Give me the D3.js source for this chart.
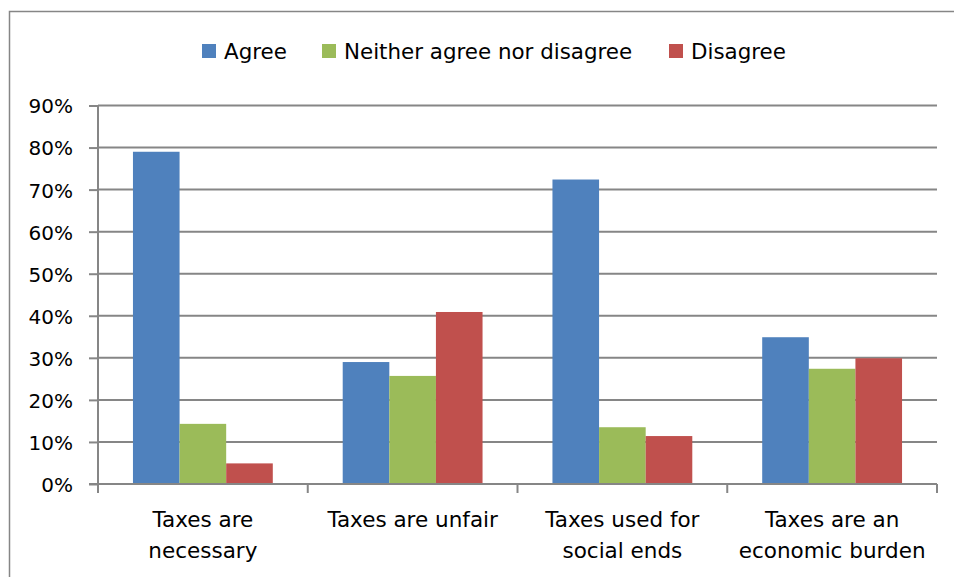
<!DOCTYPE html>
<html><head><meta charset="utf-8">
<script src="https://cdn.jsdelivr.net/npm/d3@7"></script>
<style>
html,body{margin:0;padding:0;background:#fff;}
svg{display:block;font-family:"DejaVu Sans",sans-serif;}
</style></head>
<body><svg id="c" width="954" height="577"></svg>
<script>
const categories = [["Taxes are","necessary"],["Taxes are unfair"],["Taxes used for","social ends"],["Taxes are an","economic burden"]];
const seriesNames = ["Agree","Neither agree nor disagree","Disagree"];
const agree = [79, 29, 72.4, 34.9];
const neither = [14.3, 25.7, 13.5, 27.4];
const disagree = [4.9, 40.9, 11.4, 29.9];
const yTicks = [0,10,20,30,40,50,60,70,80,90];
const colors = ["#4F81BD","#9BBB59","#C0504D"];

const svg = d3.select("#c");
const m = {left:98, right:937, top:105.5, bottom:484};
const gridColor = "#868686";

// outer frame
svg.append("rect").attr("x",9.5).attr("y",11.5).attr("width",960).attr("height",600)
  .attr("fill","none").attr("stroke",gridColor).attr("stroke-width",1.5);

const x0 = d3.scaleBand().domain(d3.range(categories.length)).range([m.left,m.right]).paddingInner(0).paddingOuter(0);
const bw = x0.bandwidth()/4.5;
const x1 = d3.scaleBand().domain(d3.range(3)).range([0.75*bw, x0.bandwidth()-0.75*bw]).padding(0);
const y = d3.scaleLinear().domain([0,90]).range([m.bottom,m.top]);

// gridlines
svg.append("g").selectAll("line").data(yTicks.filter(d=>d>0)).join("line")
  .attr("x1",m.left).attr("x2",m.right).attr("y1",d=>y(d)).attr("y2",d=>y(d))
  .attr("stroke",gridColor).attr("stroke-width",2);

const data = [agree, neither, disagree];
const g = svg.append("g");
data.forEach((vals, si) => {
  g.selectAll(null).data(vals).join("rect")
    .attr("x",(d,i)=>x0(i)+x1(si)).attr("width",x1.bandwidth())
    .attr("y",d=>y(d)).attr("height",d=>y(0)-y(d))
    .attr("fill",colors[si]);
});

// y axis
const yAxis = d3.axisLeft(y).tickValues(yTicks).tickFormat(d=>d+"%").tickSize(9).tickPadding(16);
const ya = svg.append("g").attr("transform",`translate(${m.left},0)`).call(yAxis);
ya.select(".domain").attr("stroke",gridColor).attr("stroke-width",2).attr("d",`M0,${m.top}V${m.bottom}`);
ya.selectAll(".tick line").attr("stroke",gridColor).attr("stroke-width",2);
ya.selectAll("text").attr("font-size",20).attr("fill","#000").attr("font-family","DejaVu Sans").attr("dy","0.37em");

// x axis
const xa = svg.append("g").attr("transform",`translate(0,${m.bottom})`);
xa.append("line").attr("x1",m.left-9).attr("x2",m.right).attr("stroke",gridColor).attr("stroke-width",2);
const tickX = d3.range(categories.length+1).map(i=> i<categories.length ? x0(i) : m.right);
xa.selectAll("line.t").data(tickX).join("line").attr("class","t")
  .attr("x1",d=>d).attr("x2",d=>d).attr("y1",0).attr("y2",9)
  .attr("stroke",gridColor).attr("stroke-width",2);
const lab = xa.selectAll("text.c").data(categories).join("text").attr("class","c")
  .attr("x",(d,i)=>x0(i)+x0.bandwidth()/2).attr("text-anchor","middle")
  .attr("font-size",21.5).attr("fill","#000");
lab.selectAll("tspan").data(d=>d).join("tspan")
  .attr("x",function(){return this.parentNode.getAttribute("x");})
  .attr("y",(d,j)=>43+j*31).text(d=>d);

// legend
const legendX = [202, 322, 669];
const lg = svg.append("g");
seriesNames.forEach((n,i)=>{
  lg.append("rect").attr("x",legendX[i]).attr("y",44).attr("width",14).attr("height",14).attr("fill",colors[i]);
  lg.append("text").attr("x",legendX[i]+22).attr("y",59).attr("font-size",21.4).attr("fill","#000").text(n);
});
</script></body></html>
